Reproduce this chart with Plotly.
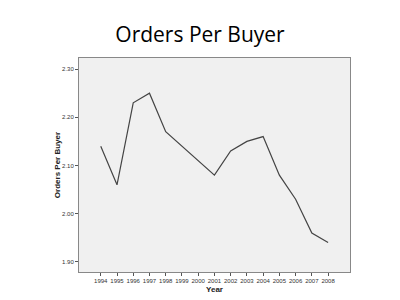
import plotly.graph_objects as go

years = [1994, 1995, 1996, 1997, 1998, 1999, 2000, 2001, 2002, 2003, 2004, 2005, 2006, 2007, 2008]
orders_per_buyer = [2.14, 2.06, 2.23, 2.25, 2.17, 2.14, 2.11, 2.08, 2.13, 2.15, 2.16, 2.08, 2.03, 1.96, 1.94]
y_ticks = [1.90, 2.00, 2.10, 2.20, 2.30]

fig = go.Figure()
fig.add_trace(go.Scatter(x=years, y=orders_per_buyer, mode="lines",
                         line=dict(color="#444444", width=1.2)))

fig.update_layout(
    width=400, height=300,
    margin=dict(l=79, r=50, t=58, b=28),
    paper_bgcolor="white", plot_bgcolor="#f0f0f0",
    showlegend=False,
    title=dict(text="Orders Per Buyer", x=0.5, xanchor="center", y=1 - 42 / 300, yanchor="bottom",
               font=dict(family="Open Sans", size=21, color="black")),
)
fig.update_xaxes(range=[1992.66, 2009.35], tickvals=years, ticktext=[str(y) for y in years],
                 ticks="outside", ticklen=3, tickcolor="#555", tickfont=dict(size=6, color="#333", family="Arial"),
                 showgrid=False, zeroline=False, showline=True, linecolor="#888", mirror=True, linewidth=1,
                 automargin=False,
                 title=dict(text="<b>Year</b>", font=dict(size=8, color="#222", family="Arial"), standoff=3))
fig.update_yaxes(range=[1.879, 2.323], tickvals=y_ticks, ticktext=["%.2f" % v for v in y_ticks],
                 ticks="outside", ticklen=3, tickcolor="#555", tickfont=dict(size=6, color="#333", family="Arial"),
                 showgrid=False, zeroline=False, showline=True, linecolor="#888", mirror=True, linewidth=1,
                 automargin=False,
                 title=dict(text="<b>Orders Per Buyer</b>", font=dict(size=8, color="#222", family="Arial"), standoff=0))

fig.write_html("out.html")
